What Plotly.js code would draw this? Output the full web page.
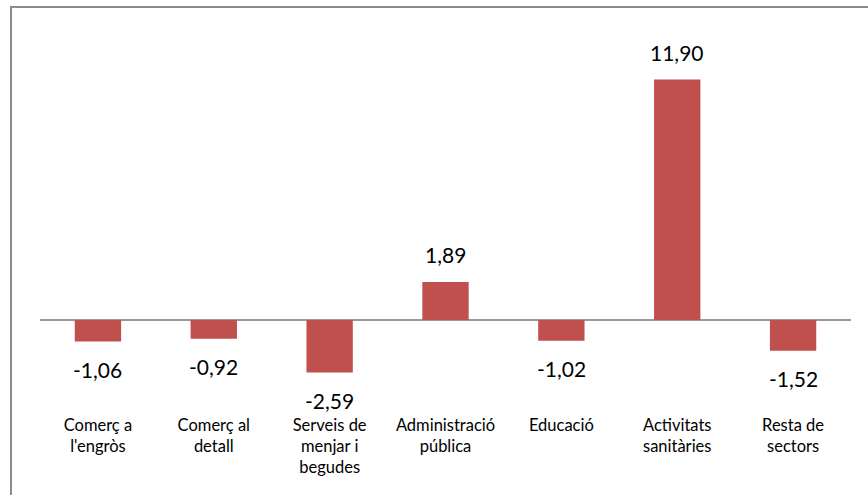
<!DOCTYPE html>
<html><head><meta charset="utf-8">
<script src="https://cdn.plot.ly/plotly-3.0.1.min.js"></script>
<style>
html,body{margin:0;padding:0;background:#fff;}
#wrap{position:relative;width:868px;height:495px;overflow:hidden;}
#frame{position:absolute;left:10px;top:6px;width:900px;height:600px;border-left:2px solid #8c8c8c;border-top:2px solid #8c8c8c;pointer-events:none;}
#chart{position:absolute;left:0;top:0;width:868px;height:495px;}
</style></head>
<body><div id="wrap"><div id="chart"></div><div id="frame"></div></div>
<script>
var categories = ["Comerç a<br>l'engròs", "Comerç al<br>detall", "Serveis de<br>menjar i<br>begudes", "Administració<br>pública", "Educació", "Activitats<br>sanitàries", "Resta de<br>sectors"];
var values = [-1.06, -0.92, -2.59, 1.89, -1.02, 11.90, -1.52];
var labels = values.map(function(v){ return v.toFixed(2).replace('.', ','); });

var annotations = values.map(function(v, i){
  return {x: categories[i], y: v, xref: 'x', yref: 'y', text: labels[i], showarrow: false,
          yshift: v >= 0 ? 27 : -28, font: {family: 'Lato, sans-serif', size: 21, color: '#000'}};
});

Plotly.newPlot('chart', [{
  type: 'bar', x: categories, y: values,
  marker: {color: '#C0504D'}, hoverinfo: 'none'
}], {
  width: 868, height: 495,
  margin: {l: 40, r: 17, t: 36.5, b: 94},
  paper_bgcolor: 'rgba(0,0,0,0)', plot_bgcolor: 'rgba(0,0,0,0)',
  bargap: 0.6,
  showlegend: false,
  xaxis: {showline: false, showgrid: false, ticks: '', ticklabelstandoff: 12,
          tickfont: {family: 'Lato, sans-serif', size: 16.5, color: '#000'}, fixedrange: true},
  yaxis: {range: [-4, 14], showgrid: false, showticklabels: false, ticks: '', showline: false,
          zeroline: true, zerolinecolor: '#9a9a9a', zerolinewidth: 2, fixedrange: true},
  annotations: annotations
}, {displayModeBar: false, staticPlot: true});
</script></body></html>
